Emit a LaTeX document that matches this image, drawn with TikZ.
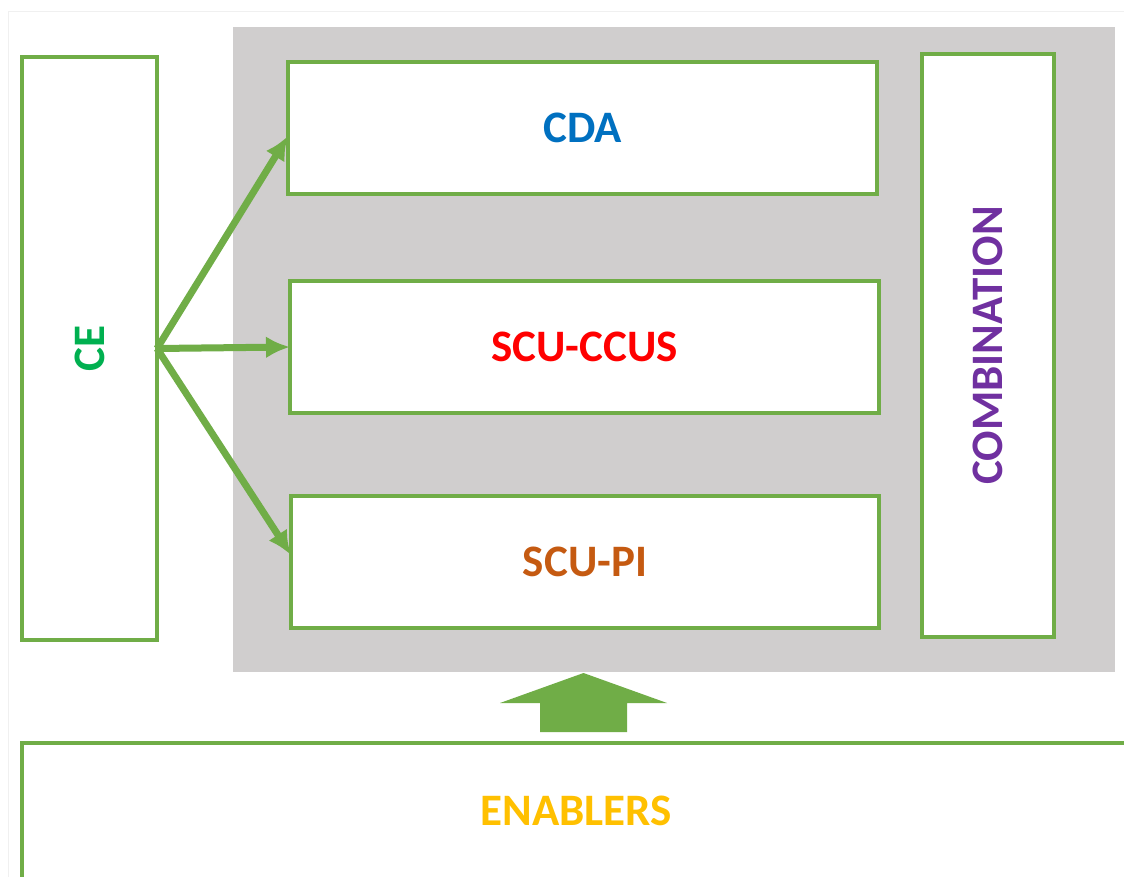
\documentclass[tikz,border=0pt]{standalone}
\usepackage{fontspec}
\setmainfont{Carlito}
\usepackage{tikz}
\usetikzlibrary{arrows.meta}

\definecolor{boxgreen}{HTML}{70AD47}
\definecolor{panelgray}{HTML}{D0CECE}
\definecolor{cegreen}{HTML}{00B050}
\definecolor{cdablue}{HTML}{0070C0}
\definecolor{ccusred}{HTML}{FF0000}
\definecolor{pibrown}{HTML}{C55A11}
\definecolor{combpurple}{HTML}{7030A0}
\definecolor{enabgold}{HTML}{FFC000}

\begin{document}
\begin{tikzpicture}
            [
                x=1pt, y=-1pt,
                greenbox/.style={draw=boxgreen, line width=3.5pt, fill=white,
                    inner sep=0pt, outer sep=0pt,
                    font=\fontsize{45}{54}\selectfont\bfseries},
                feed/.style={draw=boxgreen, line width=7pt,
                    -{Latex[length=24pt, width=22pt]}}
            ]
            \useasboundingbox (0,0) rectangle (1124,877);
            \clip (0,0) rectangle (1124,877);
            \fill[white] (0,0) rectangle (1124,877);
            \draw[gray!12, line width=1pt] (8,877) |- (1124,12);
            \fill[panelgray] (233,27) rectangle (1115,672);
            \node[greenbox, minimum width=135, minimum height=583] (ce) at (89.5,348.5)
                {\rotatebox{90}{\textcolor{cegreen}{CE}}};
            \node[greenbox, minimum width=589, minimum height=132] (cda) at (582.5,128)
                {\textcolor{cdablue}{CDA}};
            \node[greenbox, minimum width=589, minimum height=132] (ccus) at (584.5,347)
                {\textcolor{ccusred}{SCU-CCUS}};
            \node[greenbox, minimum width=588, minimum height=132] (pi) at (585,562)
                {\textcolor{pibrown}{SCU-PI}};
            \node[greenbox, minimum width=132, minimum height=583] (comb) at (988,345.5)
                {\rotatebox{90}{\textcolor{combpurple}{COMBINATION}}};
            \node[greenbox, minimum width=1108, minimum height=136] (enab) at (576,811)
                {\textcolor{enabgold}{ENABLERS}};
            \coordinate (up) at (583.5,673);
            \fill[boxgreen] (up) -- ++(83.5,30) -- ++(-40,0) -- ++(0,29) -- ++(-87,0)
                -- ++(0,-29) -- ++(-40,0) -- cycle;
            \draw[feed] (ce.east) -- ([yshift=-8pt]cda.west);
            \draw[feed] (ce.east) -- (ccus.west);
            \draw[feed] (ce.east) -- ([yshift=7pt]pi.west);
        \end{tikzpicture}
\end{document}
